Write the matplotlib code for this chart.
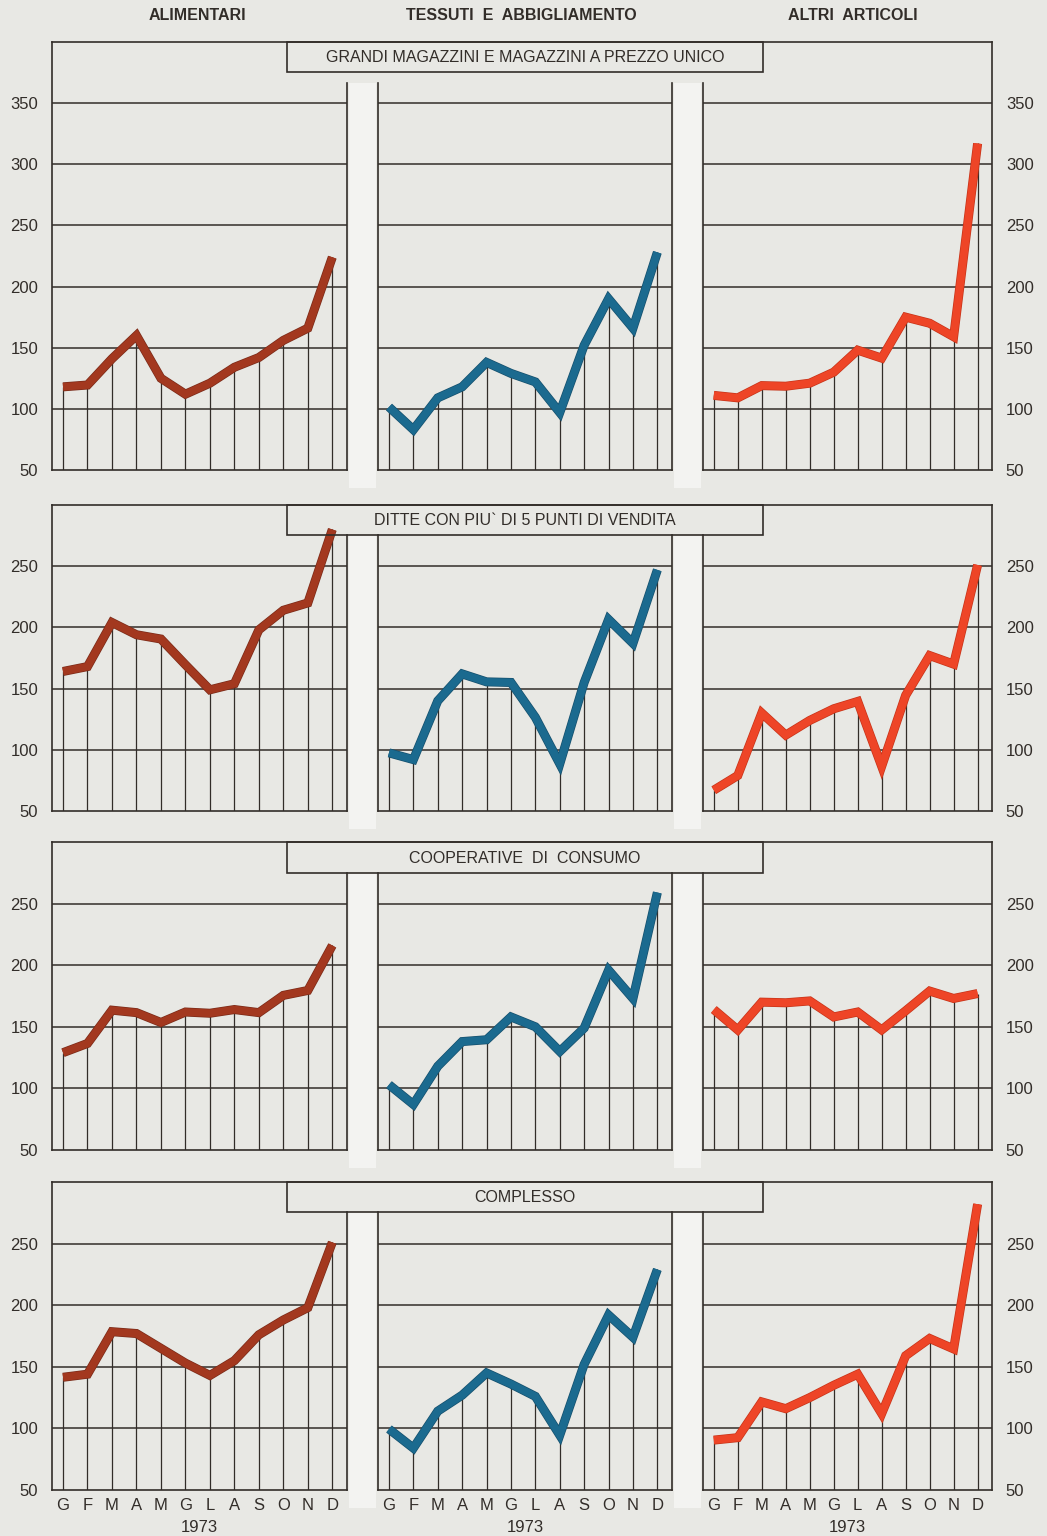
import matplotlib.pyplot as plt
import matplotlib.patheffects as pe
from matplotlib.lines import Line2D
from matplotlib.patches import Rectangle

plt.rcParams['font.family'] = ['Liberation Sans', 'DejaVu Sans']

mesi = ['G', 'F', 'M', 'A', 'M', 'G', 'L', 'A', 'S', 'O', 'N', 'D']
colonne = ['ALIMENTARI', 'TESSUTI  E  ABBIGLIAMENTO', 'ALTRI  ARTICOLI']
titoli = ['GRANDI MAGAZZINI E MAGAZZINI A PREZZO UNICO',
          'DITTE CON PIU` DI 5 PUNTI DI VENDITA',
          'COOPERATIVE  DI  CONSUMO',
          'COMPLESSO']

gm_alimentari = [118, 119.5, 141, 160, 125, 112, 121, 134, 142, 156, 166, 224]
gm_tessuti = [101.5, 83, 109, 118, 138, 129, 122, 97, 152, 190, 166, 228]
gm_altri = [111, 109, 119, 118.5, 121, 130, 148, 141.5, 175, 170, 159, 317]

ditte_alimentari = [164, 168, 204, 194, 190.5, 169.5, 149, 154, 198, 214, 220, 280]
ditte_tessuti = [97.5, 92, 140, 162, 155.5, 155, 126.5, 88.5, 155, 206.5, 187, 247]
ditte_altri = [67, 79, 130, 112, 124, 133.5, 139.5, 86.5, 144.5, 177, 170, 251]

coop_alimentari = [129, 136.5, 163.5, 161.5, 153.5, 162, 161, 164, 161.5, 175.5, 179.5, 216]
coop_tessuti = [103, 87, 118, 138, 139.5, 158, 150, 130, 149, 196, 173, 259]
coop_altri = [164, 147.5, 170, 169.5, 171, 158, 162, 147.5, 163, 179, 173, 177]

compl_alimentari = [141.5, 144, 178.5, 177, 165, 153, 143, 155, 176, 188, 198, 251]
compl_tessuti = [99.5, 84, 114, 127, 145, 136, 126, 94.5, 152, 192, 174, 229]
compl_altri = [90.5, 92.5, 121.5, 116, 125, 135, 144, 112, 159, 173, 164.5, 282]

dati = [[gm_alimentari, gm_tessuti, gm_altri],
        [ditte_alimentari, ditte_tessuti, ditte_altri],
        [coop_alimentari, coop_tessuti, coop_altri],
        [compl_alimentari, compl_tessuti, compl_altri]]

ymax_righe = [400, 300, 300, 300]
tick_righe = [[50, 100, 150, 200, 250, 300, 350],
              [50, 100, 150, 200, 250],
              [50, 100, 150, 200, 250],
              [50, 100, 150, 200, 250]]

# layout in pixel: (alto, basso, fondo riquadro titolo, inizio pannelli interni)
W, H = 1047, 1536
righe_px = [(42, 470, 72, 83), (505, 811, 535, 535), (842, 1150, 873, 873), (1182, 1490, 1212, 1212)]
col_px = [(52, 347), (378, 672), (703, 992)]
colori = ['#a3381f', '#1b6a8f', '#ee4527']
bordi = ['#7a2a18', '#154f6c', '#c63318']
ink = '#322d29'
carta = '#e8e8e4'


def fx(p):
    return p / W


def fy(p):
    return 1 - p / H


fig = plt.figure(figsize=(W / 100, H / 100), dpi=100, facecolor=carta)

header_x = [197, 521, 853]
for x, t in zip(header_x, colonne):
    fig.text(fx(x), fy(15), t, ha='center', va='center', fontsize=11.5,
             fontweight='bold', color=ink)

xs = list(range(12))
for r in range(4):
    top, bottom, box_b, inner = righe_px[r]
    ymax = ymax_righe[r]
    yb = 50 + (bottom - inner) / (bottom - top) * (ymax - 50)

    # strisce chiare tra i pannelli
    for g0, g1 in [(349, 376), (674, 701)]:
        fig.add_artist(Rectangle((fx(g0), fy(bottom + 18)), fx(g1 - g0), (bottom + 18 - inner) / H,
                                 transform=fig.transFigure, facecolor='#f3f3f1',
                                 edgecolor='none', zorder=-1))

    for j in range(3):
        x0, x1 = col_px[j]
        ax = fig.add_axes([fx(x0), fy(bottom), fx(x1 - x0), (bottom - top) / H])
        ax.set_facecolor('none')
        ax.set_xlim(-0.45, 11.6)
        ax.set_ylim(50, ymax)
        vals = dati[r][j]

        for lv in range(100, ymax, 50):
            ax.axhline(lv, color=ink, lw=1.1, zorder=1)
        ax.vlines(xs, 50, vals, color=ink, lw=0.9, zorder=1)
        ax.plot(xs, vals, color=colori[j], lw=5.5, zorder=3,
                solid_joinstyle='miter', solid_capstyle='butt',
                path_effects=[pe.Stroke(linewidth=6.5, foreground=bordi[j]), pe.Normal()])

        for s in ax.spines.values():
            s.set_color(ink)
            s.set_linewidth(1.2)
        ax.spines['top'].set_visible(False)
        if j == 0:
            ax.spines['right'].set_bounds(50, yb)
        elif j == 1:
            ax.spines['left'].set_bounds(50, yb)
            ax.spines['right'].set_bounds(50, yb)
        else:
            ax.spines['left'].set_bounds(50, yb)

        ax.tick_params(length=0, labelsize=12, colors=ink, pad=10)
        if j == 0:
            ax.set_yticks(tick_righe[r])
        elif j == 2:
            ax.yaxis.tick_right()
            ax.set_yticks(tick_righe[r])
        else:
            ax.set_yticks([])

        if r == 3:
            ax.set_xticks(xs, mesi)
            ax.tick_params(axis='x', pad=6, labelsize=12)
            ax.set_xlabel('1973', fontsize=12, color=ink, labelpad=5)
        else:
            ax.set_xticks([])

    # cornice superiore e riquadro del titolo
    fig.add_artist(Line2D([fx(52), fx(992)], [fy(top), fy(top)], transform=fig.transFigure,
                          color=ink, lw=1.2))
    fig.add_artist(Rectangle((fx(287), fy(box_b)), fx(763 - 287), (box_b - top) / H,
                             transform=fig.transFigure, fill=False, edgecolor=ink, lw=1.2))
    fig.text(fx(525), fy((top + box_b) / 2 + 1), titoli[r], ha='center', va='center',
             fontsize=11.5, color=ink)

fig.savefig('out.png', dpi=100, facecolor=carta)
